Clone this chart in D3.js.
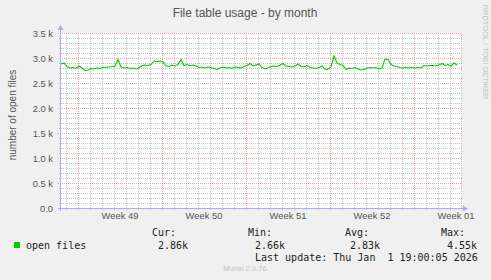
<!DOCTYPE html>
<html>
<head>
<meta charset="utf-8">
<script src="https://cdn.jsdelivr.net/npm/d3@7"></script>
<style>
  html, body { margin: 0; padding: 0; background: #f0f0f0; }
  svg { display: block; }
  .tick-text { font-family: "Liberation Sans", Arial, sans-serif; font-size: 9.4px; fill: #555; }
  .legend-text { font-family: "DejaVu Sans Mono", monospace; font-size: 10px; fill: #222; white-space: pre; }
</style>
</head>
<body>
<div id="chart"></div>
<script>
// open files, one sample every 6 hours starting 2025-11-29 14:00 UTC
const startTime = Date.UTC(2025, 10, 29, 14);
const stepHours = 6;
const openFiles = [
  2880, 2900, 2830, 2800, 2810, 2790, 2840, 2800, 2750, 2760,
  2790, 2780, 2800, 2790, 2820, 2810, 2820, 2830, 2840, 2970,
  2820, 2800, 2810, 2790, 2800, 2780, 2800, 2850, 2860, 2850,
  2870, 2940, 2930, 2940, 2920, 2840, 2830, 2860, 2840, 2870,
  2970, 2850, 2870, 2850, 2860, 2840, 2810, 2820, 2800, 2820,
  2810, 2790, 2770, 2800, 2820, 2800, 2810, 2790, 2820, 2810,
  2800, 2830, 2850, 2890, 2840, 2860, 2880, 2810, 2780, 2800,
  2830, 2840, 2830, 2860, 2890, 2840, 2830, 2820, 2840, 2880,
  2830, 2820, 2850, 2810, 2800, 2790, 2810, 2840, 2770, 2780,
  2820, 3040, 2900, 2870, 2850, 2770, 2800, 2790, 2810, 2780,
  2760, 2770, 2800, 2810, 2800, 2810, 2780, 2800, 2980, 2970,
  2870, 2840, 2830, 2810, 2800, 2810, 2800, 2810, 2800, 2810,
  2800, 2850, 2840, 2850, 2850, 2840, 2860, 2890, 2850, 2870,
  2840, 2900, 2860
];
const yTicks = [0, 500, 1000, 1500, 2000, 2500, 3000, 3500];
const statLabels = ["Cur:", "Min:", "Avg:", "Max:"];
const statValues = ["2.86k", "2.66k", "2.83k", "4.55k"];
const seriesName = "open files";
const title = "File table usage - by month";
const yLabel = "number of open files";
const lastUpdate = "Last update: Thu Jan  1 19:00:05 2026";

const width = 491;
const height = 280;
const plot = { left: 61, right: 461, top: 33, bottom: 208 };
const lineColor = "#00cc00";
const axisColor = "#aaaaf5";
const minorColor = "#c4c4c4";
const majorColor = "#f3a0a0";

const data = openFiles.map((v, i) => ({ t: new Date(startTime + i * stepHours * 3600e3), v }));

const t0 = new Date(startTime);
const t1 = new Date(startTime + 800 * 3600e3);
const x = d3.scaleUtc().domain([t0, t1]).range([plot.left, plot.right]);
const y = d3.scaleLinear().domain([0, 3500]).range([plot.bottom, plot.top]);

const svg = d3.select("#chart").append("svg")
  .attr("width", width)
  .attr("height", height);

svg.append("rect").attr("width", width).attr("height", height).attr("fill", "#f0f0f0");
svg.append("rect")
  .attr("x", plot.left).attr("y", plot.top)
  .attr("width", plot.right - plot.left).attr("height", plot.bottom - plot.top)
  .attr("fill", "#fff");

// grid: minor (days / 100 files), then major (weeks / 500 files)
const days = d3.utcDay.range(t0, new Date(+t1 + 3 * 3600e3)).filter((d) => x(d) <= plot.right + 1.5);
const weeks = d3.utcMonday.range(t0, t1);
const minorY = d3.range(100, 3600, 100).filter((d) => d % 500 !== 0);

svg.append("g").selectAll("line")
  .data(days)
  .enter().append("line")
  .attr("x1", (d) => Math.min(Math.round(x(d)), plot.right) + 0.5)
  .attr("x2", (d) => Math.min(Math.round(x(d)), plot.right) + 0.5)
  .attr("y1", plot.top)
  .attr("y2", plot.bottom + 2)
  .attr("stroke", minorColor)
  .attr("stroke-dasharray", "1,1");

svg.append("g").selectAll("line")
  .data(minorY)
  .enter().append("line")
  .attr("x1", plot.left - 2)
  .attr("x2", plot.right + 1)
  .attr("y1", (d) => Math.round(y(d)) + 0.5)
  .attr("y2", (d) => Math.round(y(d)) + 0.5)
  .attr("stroke", minorColor)
  .attr("stroke-dasharray", "1,1");

svg.append("g").selectAll("line")
  .data(weeks)
  .enter().append("line")
  .attr("x1", (d) => Math.round(x(d)) + 0.5)
  .attr("x2", (d) => Math.round(x(d)) + 0.5)
  .attr("y1", plot.top)
  .attr("y2", plot.bottom + 3)
  .attr("stroke", majorColor)
  .attr("stroke-dasharray", "1,1");

svg.append("g").selectAll("line")
  .data(yTicks.filter((d) => d > 0))
  .enter().append("line")
  .attr("x1", plot.left - 3)
  .attr("x2", plot.right + 1)
  .attr("y1", (d) => Math.round(y(d)) + 0.5)
  .attr("y2", (d) => Math.round(y(d)) + 0.5)
  .attr("stroke", majorColor)
  .attr("stroke-dasharray", "1,1");

// y tick labels
svg.append("g").selectAll("text")
  .data(yTicks)
  .enter().append("text")
  .attr("class", "tick-text")
  .attr("x", 53)
  .attr("y", (d) => y(d) + 3.5)
  .attr("text-anchor", "end")
  .text((d) => (d === 0 ? "0.0" : (d / 1000).toFixed(1) + " k"));

// x tick labels, centred in each week
const weekFmt = d3.utcFormat("Week %V");
svg.append("g").selectAll("text")
  .data(weeks)
  .enter().append("text")
  .attr("class", "tick-text")
  .attr("x", (d) => x(d3.utcHour.offset(d, 84)))
  .attr("y", 218.5)
  .attr("text-anchor", "middle")
  .text(weekFmt);

// axes with arrows
svg.append("line")
  .attr("x1", plot.left - 3).attr("x2", plot.right + 2)
  .attr("y1", plot.bottom + 0.5).attr("y2", plot.bottom + 0.5)
  .attr("stroke", axisColor);
svg.append("path")
  .attr("d", `M${plot.right + 2},${plot.bottom - 2.5}L${plot.right + 7},${plot.bottom + 0.5}L${plot.right + 2},${plot.bottom + 3.5}Z`)
  .attr("fill", axisColor);
svg.append("line")
  .attr("x1", plot.left - 0.5).attr("x2", plot.left - 0.5)
  .attr("y1", plot.bottom + 3).attr("y2", plot.top - 3)
  .attr("stroke", axisColor);
svg.append("path")
  .attr("d", `M${plot.left - 3.5},${plot.top - 3}L${plot.left - 0.5},${plot.top - 8}L${plot.left + 2.5},${plot.top - 3}Z`)
  .attr("fill", axisColor);

// series
const line = d3.line()
  .x((d) => x(d.t))
  .y((d) => y(d.v));

svg.append("path")
  .datum(data)
  .attr("d", line)
  .attr("fill", "none")
  .attr("stroke", lineColor)
  .attr("stroke-width", 1.1)
  .attr("stroke-linejoin", "miter");

// title and labels
svg.append("text")
  .attr("x", 245)
  .attr("y", 16.5)
  .attr("text-anchor", "middle")
  .attr("font-family", "Liberation Sans, Arial, sans-serif")
  .attr("font-size", 12)
  .attr("fill", "#555")
  .text(title);

svg.append("text")
  .attr("transform", "translate(15.5,115) rotate(-90)")
  .attr("text-anchor", "middle")
  .attr("font-family", "Liberation Sans, Arial, sans-serif")
  .attr("font-size", 10)
  .attr("fill", "#555")
  .text(yLabel);

svg.append("text")
  .attr("transform", "translate(483,52) rotate(90)")
  .attr("text-anchor", "middle")
  .attr("font-family", "Liberation Sans, Arial, sans-serif")
  .attr("font-size", 7.5)
  .attr("fill", "#c4c4c4")
  .text("RRDTOOL / TOBI OETIKER");

// legend
const statX = [152, 248, 345, 441];
const valueX = [158, 255, 350, 447];

svg.append("g").selectAll("text")
  .data(statLabels)
  .enter().append("text")
  .attr("class", "legend-text")
  .attr("x", (d, i) => statX[i])
  .attr("y", 236)
  .text((d) => d);

svg.append("g").selectAll("text")
  .data(statValues)
  .enter().append("text")
  .attr("class", "legend-text")
  .attr("x", (d, i) => valueX[i])
  .attr("y", 248.5)
  .text((d) => d);

svg.append("rect")
  .attr("x", 14).attr("y", 242)
  .attr("width", 6).attr("height", 6)
  .attr("fill", lineColor);

svg.append("text")
  .attr("class", "legend-text")
  .attr("x", 26)
  .attr("y", 248.5)
  .text(seriesName);

svg.append("text")
  .attr("class", "legend-text")
  .attr("x", 255)
  .attr("y", 260.5)
  .text(lastUpdate);

svg.append("text")
  .attr("x", 245)
  .attr("y", 270.5)
  .attr("text-anchor", "middle")
  .attr("font-family", "Liberation Sans, Arial, sans-serif")
  .attr("font-size", 7.5)
  .attr("fill", "#c4c4c4")
  .text("Munin 2.0.76");
</script>
</body>
</html>
